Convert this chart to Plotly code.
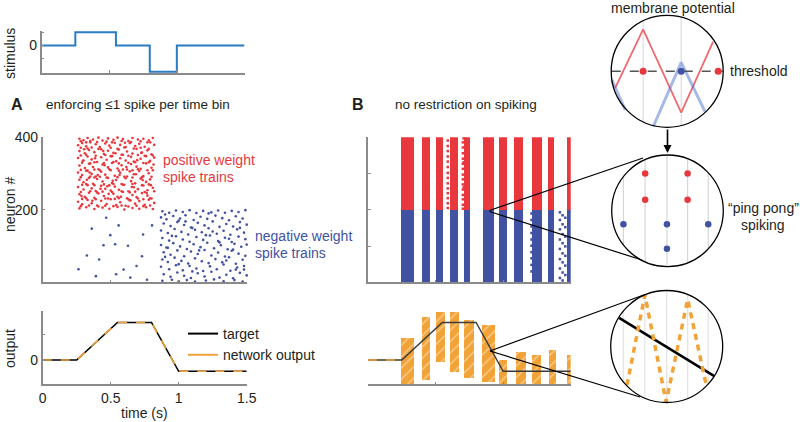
import numpy as np
import plotly.graph_objects as go

W, H = 800, 422


def px(x):
    return x / W


def py(y):
    return 1 - y / H


RED = '#e8383d'
BLUE = '#4152a3'
ORANGE = '#f2a338'
STIM_BLUE = '#2b7bc0'
AXIS = '#8a8a8a'
TXT = '#231f20'
FONT = 'Liberation Sans, Arial, sans-serif'

# ---- data ----
stim_t = [0, 0.25, 0.55, 0.8, 1.0, 1.5]
stim_v = [0, 1, 0, -2, 0, 0]

target_t = [0, 0.25, 0.55, 0.8, 1.0, 1.5]
target_v = [0, 0, 1.5, 1.5, -0.45, -0.45]
net_a_t = [0, 0.25, 0.55, 0.8, 1.0, 1.5]
net_a_v = [0, 0, 1.5, 1.5, -0.45, -0.45]

# panel A spikes (time s, neuron #)
red_spikes_a = [
    (0.27, 396), (0.30, 392), (0.33, 398), (0.37, 394), (0.41, 399), (0.44, 391), (0.48, 397), (0.52, 393),
    (0.55, 399), (0.59, 395), (0.63, 390), (0.66, 398), (0.70, 394), (0.74, 396), (0.78, 392), (0.81, 398),
    (0.26, 378), (0.29, 384), (0.32, 375), (0.35, 386), (0.39, 381), (0.42, 373), (0.46, 383), (0.49, 377),
    (0.53, 385), (0.57, 379), (0.60, 372), (0.64, 384), (0.68, 376), (0.71, 382), (0.75, 374), (0.79, 386),
    (0.82, 379), (0.27, 362), (0.31, 356), (0.34, 365), (0.38, 359), (0.41, 368), (0.45, 354), (0.48, 363),
    (0.52, 357), (0.56, 366), (0.59, 352), (0.62, 361), (0.66, 355), (0.69, 368), (0.73, 358), (0.77, 364),
    (0.80, 353), (0.26, 343), (0.30, 336), (0.33, 347), (0.36, 339), (0.40, 332), (0.43, 345), (0.47, 338),
    (0.50, 348), (0.54, 334), (0.57, 342), (0.61, 336), (0.65, 346), (0.68, 331), (0.72, 341), (0.75, 349),
    (0.79, 335), (0.82, 344), (0.27, 322), (0.31, 315), (0.34, 327), (0.37, 318), (0.41, 312), (0.44, 325),
    (0.48, 317), (0.51, 329), (0.55, 314), (0.58, 323), (0.62, 311), (0.65, 326), (0.69, 319), (0.72, 313),
    (0.76, 328), (0.80, 316), (0.26, 303), (0.29, 296), (0.33, 308), (0.36, 299), (0.39, 292), (0.43, 305),
    (0.46, 297), (0.50, 309), (0.53, 294), (0.57, 302), (0.60, 291), (0.64, 306), (0.67, 298), (0.71, 307),
    (0.74, 293), (0.78, 301), (0.81, 309), (0.27, 283), (0.30, 276), (0.34, 288), (0.37, 272), (0.40, 285),
    (0.44, 278), (0.47, 289), (0.51, 274), (0.54, 282), (0.58, 271), (0.61, 287), (0.65, 279), (0.68, 273),
    (0.72, 286), (0.76, 277), (0.79, 284), (0.26, 263), (0.30, 256), (0.33, 268), (0.36, 259), (0.39, 252),
    (0.43, 266), (0.46, 258), (0.50, 253), (0.53, 264), (0.56, 255), (0.60, 269), (0.63, 251), (0.67, 262),
    (0.70, 257), (0.74, 267), (0.77, 254), (0.81, 261), (0.27, 243), (0.31, 236), (0.34, 247), (0.38, 233),
    (0.41, 245), (0.45, 238), (0.48, 231), (0.52, 244), (0.55, 236), (0.59, 249), (0.62, 232), (0.66, 241),
    (0.69, 235), (0.73, 246), (0.77, 239), (0.80, 231), (0.26, 222), (0.29, 215), (0.33, 227), (0.36, 218),
    (0.40, 212), (0.43, 225), (0.47, 216), (0.50, 229), (0.54, 213), (0.57, 221), (0.61, 211), (0.64, 226),
    (0.68, 217), (0.71, 224), (0.75, 214), (0.78, 228), (0.82, 219), (0.27, 204), (0.32, 207), (0.38, 202),
    (0.44, 206), (0.49, 203), (0.55, 208), (0.60, 201), (0.66, 205), (0.71, 203), (0.76, 207), (0.81, 202),
    (0.28, 389), (0.32, 386), (0.35, 390), (0.40, 387), (0.47, 388), (0.51, 386), (0.58, 390), (0.65, 387),
    (0.72, 389), (0.77, 386), (0.28, 371), (0.33, 369), (0.36, 372), (0.43, 367), (0.50, 371), (0.55, 368),
    (0.61, 373), (0.67, 369), (0.72, 371), (0.78, 368), (0.28, 350), (0.32, 352), (0.39, 349), (0.46, 351),
    (0.51, 348), (0.58, 352), (0.63, 349), (0.70, 351), (0.76, 348), (0.81, 350), (0.29, 330), (0.35, 328),
    (0.38, 331), (0.45, 329), (0.52, 332), (0.56, 328), (0.63, 330), (0.67, 333), (0.74, 329), (0.78, 331),
    (0.28, 310), (0.32, 308), (0.38, 311), (0.42, 309), (0.49, 312), (0.56, 308), (0.59, 311), (0.66, 309),
    (0.70, 312), (0.77, 309), (0.28, 290), (0.35, 292), (0.38, 289), (0.42, 291), (0.48, 288), (0.55, 290),
    (0.62, 292), (0.66, 289), (0.73, 290), (0.80, 291), (0.29, 269), (0.32, 271), (0.38, 268), (0.45, 270),
    (0.49, 268), (0.52, 271), (0.59, 269), (0.66, 271), (0.73, 268), (0.78, 270), (0.28, 249), (0.35, 251),
    (0.40, 248), (0.44, 250), (0.51, 249), (0.58, 251), (0.64, 248), (0.68, 250), (0.75, 249), (0.82, 251),
    (0.29, 230), (0.32, 232), (0.39, 229), (0.46, 231), (0.53, 230), (0.56, 232), (0.63, 229), (0.70, 231),
    (0.74, 229), (0.79, 232), (0.28, 210), (0.34, 212), (0.41, 209), (0.46, 211), (0.52, 210), (0.58, 212),
    (0.63, 209), (0.69, 211), (0.74, 210), (0.79, 212),
    (0.305, 367), (0.345, 303), (0.385, 342), (0.425, 258), (0.455, 323), (0.515, 280), (0.535, 356),
    (0.575, 236), (0.615, 318), (0.655, 263), (0.695, 337), (0.735, 282), (0.765, 246), (0.285, 238),
    (0.325, 283), (0.365, 225), (0.405, 296), (0.445, 362), (0.485, 244), (0.565, 296), (0.605, 385),
    (0.645, 226), (0.685, 298), (0.725, 357), (0.795, 268), (0.815, 325), (0.295, 335), (0.475, 265),
]
blue_spikes_a = [
    (0.88, 196), (0.93, 192), (0.98, 198), (1.03, 194), (1.08, 199), (1.13, 191), (1.18, 197), (1.24, 193),
    (1.29, 198), (1.34, 192), (1.39, 197), (1.44, 194), (1.49, 199), (0.87, 179), (0.91, 174), (0.96, 183),
    (1.01, 176), (1.05, 185), (1.11, 172), (1.16, 181), (1.21, 175), (1.27, 184), (1.32, 177), (1.37, 171),
    (1.42, 182), (1.47, 176), (0.89, 162), (0.94, 155), (0.99, 166), (1.04, 158), (1.09, 151), (1.14, 164),
    (1.19, 157), (1.25, 168), (1.30, 153), (1.35, 161), (1.40, 154), (1.45, 166), (1.50, 159), (0.87, 143),
    (0.92, 136), (0.97, 147), (1.02, 139), (1.07, 132), (1.12, 145), (1.17, 138), (1.22, 149), (1.28, 134),
    (1.33, 142), (1.38, 131), (1.43, 146), (1.48, 137), (0.88, 122), (0.93, 115), (0.98, 127), (1.03, 118),
    (1.08, 112), (1.13, 125), (1.18, 117), (1.23, 129), (1.29, 114), (1.34, 123), (1.39, 111), (1.44, 126),
    (1.49, 119), (0.87, 103), (0.91, 96), (0.96, 108), (1.01, 99), (1.06, 92), (1.11, 105), (1.16, 97),
    (1.21, 109), (1.26, 94), (1.31, 102), (1.36, 91), (1.41, 106), (1.46, 98), (1.50, 104), (0.89, 83),
    (0.94, 76), (0.99, 88), (1.04, 72), (1.09, 85), (1.14, 78), (1.19, 89), (1.24, 74), (1.29, 82),
    (1.34, 71), (1.39, 87), (1.44, 79), (1.49, 73), (0.88, 63), (0.92, 56), (0.97, 68), (1.02, 59),
    (1.07, 52), (1.12, 66), (1.17, 58), (1.22, 53), (1.27, 64), (1.32, 55), (1.37, 69), (1.42, 51),
    (1.47, 62), (0.87, 43), (0.93, 36), (0.98, 47), (1.03, 33), (1.08, 45), (1.13, 38), (1.18, 31),
    (1.23, 44), (1.28, 36), (1.33, 49), (1.38, 32), (1.43, 41), (1.48, 35), (0.89, 22), (0.94, 15),
    (0.99, 27), (1.04, 18), (1.09, 12), (1.14, 25), (1.19, 16), (1.24, 29), (1.30, 13), (1.35, 21),
    (1.40, 11), (1.45, 26), (1.50, 19), (0.88, 4), (0.95, 7), (1.00, 3), (1.06, 6), (1.12, 2),
    (1.20, 5), (1.26, 8), (1.33, 3), (1.41, 6), (1.47, 2), (0.90, 187), (1.00, 170), (1.10, 150),
    (1.20, 130), (1.30, 110), (1.40, 90), (0.90, 70), (1.00, 50), (1.10, 30), (1.25, 140), (1.35, 60),
    (1.45, 150), (0.95, 128), (1.15, 88), (1.05, 168), (1.42, 35), (0.92, 95), (1.22, 190), (1.37, 120),
    (1.48, 45),
    # sparse early negative-weight spikes
    (0.263, 36), (0.325, 74), (0.361, 148), (0.391, 17), (0.415, 63), (0.447, 102), (0.467, 178),
    (0.497, 130), (0.533, 105), (0.558, 157), (0.595, 35), (0.627, 101), (0.644, 13), (0.730, 72),
    (0.738, 132), (0.767, 7), (0.804, 157), (0.540, 22), (0.690, 45),
]

# panel B: population bursts (start, end in s)
burst_t0 = [0.245, 0.399, 0.500, 0.609, 0.713, 0.852, 0.973, 1.079, 1.216, 1.331, 1.470]
burst_t1 = [0.342, 0.461, 0.555, 0.663, 0.757, 0.930, 1.025, 1.149, 1.285, 1.376, 1.500]
red_spikes_b = [
    (0.590, 205), (0.590, 218), (0.590, 232), (0.590, 246), (0.590, 259), (0.590, 273), (0.590, 288),
    (0.590, 302), (0.590, 318), (0.590, 333), (0.590, 347), (0.590, 362), (0.590, 376), (0.590, 391),
    (0.702, 203), (0.702, 214), (0.702, 229), (0.702, 241), (0.702, 256), (0.702, 270), (0.702, 284),
    (0.702, 297), (0.702, 313), (0.702, 327), (0.702, 341), (0.702, 356), (0.702, 372), (0.702, 386),
    (0.708, 397), (0.708, 331), (0.708, 262),
]
blue_spikes_b = [
    (1.210, 30), (1.210, 48), (1.210, 66), (1.210, 83), (1.210, 101), (1.210, 118), (1.210, 136),
    (1.210, 154), (1.210, 172), (1.210, 190), (1.420, 12), (1.420, 38), (1.420, 64), (1.420, 92),
    (1.420, 118), (1.420, 146), (1.420, 172), (1.420, 193), (1.440, 5), (1.440, 27), (1.440, 55),
    (1.440, 80), (1.440, 108), (1.440, 133), (1.440, 160), (1.440, 185), (1.460, 20), (1.460, 46),
    (1.460, 73), (1.460, 99), (1.460, 126), (1.460, 152), (1.460, 178),
]

# panel B network output envelopes
out_t0 = [0.245, 0.399, 0.500, 0.609, 0.708, 0.844, 0.966, 1.092, 1.212, 1.337, 1.474]
out_t1 = [0.342, 0.461, 0.567, 0.671, 0.782, 0.943, 1.032, 1.166, 1.277, 1.389, 1.500]
out_lo = [-0.95, -0.78, -0.05, -0.45, -0.71, -0.85, -0.95, -0.95, -0.95, -0.95, -0.95]
out_hi = [0.89, 1.75, 1.95, 1.95, 1.62, 1.42, 0.02, 0.35, 0.22, 0.42, 0.22]
net_b_t = [0, 0.245]
net_b_v = [0, 0]

# schematic insets (unit-circle coordinates)
c1_grid = [-0.43, 0.25]
c1_red_x = [-0.93, -0.43, 0.25, 0.82]
c1_red_y = [-0.30, 0.75, -0.74, 0.53]
c1_blue_x = [-0.99, -0.75, None, -0.25, 0.25, 0.675]
c1_blue_y = [-0.155, -0.69, None, -0.99, 0.16, -0.72]
c1_spk_red = [-0.43, 0.91]
c1_spk_blue = [0.25]

c2_grid = [-0.79, -0.40, -0.01, 0.36, 0.73]
c2_red_x = [-0.40, 0.36, -0.40, 0.36]
c2_red_y = [0.67, 0.67, 0.20, 0.20]
c2_blue_x = [-0.79, -0.01, 0.73, -0.01]
c2_blue_y = [-0.24, -0.24, -0.24, -0.68]

c3_grid = [-0.775, -0.39, 0.0, 0.375, 0.74]
c3_target_x = [-0.85, 0.85]
c3_target_y = [0.51, -0.53]
c3_out_x = [-0.71, -0.39, -0.01, 0.375, 0.71]
c3_out_y = [-0.69, 0.92, -0.99, 0.84, -0.705]

fig = go.Figure()


def sc(x, y, xa, ya, **kw):
    fig.add_trace(go.Scatter(x=x, y=y, xaxis=xa, yaxis=ya, showlegend=False,
                             hoverinfo='skip', cliponaxis=False, **kw))


# stimulus
sc(stim_t, stim_v, 'x', 'y', mode='lines', line=dict(color=STIM_BLUE, width=2, shape='hv'))

# A raster
rt, rn = zip(*red_spikes_a)
bt, bn = zip(*blue_spikes_a)
sc(rt, rn, 'x2', 'y2', mode='markers', marker=dict(color=RED, size=2.6))
sc(bt, bn, 'x2', 'y2', mode='markers', marker=dict(color=BLUE, size=2.6))

# A output
sc(target_t, target_v, 'x3', 'y3', mode='lines', line=dict(color='black', width=1.6))
sc(net_a_t, net_a_v, 'x3', 'y3', mode='lines', line=dict(color=ORANGE, width=1.6, dash='dash'))
fig.add_trace(go.Scatter(x=[None], y=[None], xaxis='x3', yaxis='y3', mode='lines', name='target',
                         line=dict(color='black', width=2)))
fig.add_trace(go.Scatter(x=[None], y=[None], xaxis='x3', yaxis='y3', mode='lines', name='network output',
                         line=dict(color=ORANGE, width=2)))

# B raster
t0 = np.array(burst_t0)
t1 = np.array(burst_t1)
for base, col in ((0, BLUE), (200, RED)):
    fig.add_trace(go.Bar(x=(t0 + t1) / 2, y=[200] * len(t0), base=base, width=t1 - t0,
                         marker=dict(color=col, line_width=0), xaxis='x4', yaxis='y4',
                         showlegend=False, hoverinfo='skip'))
rbt, rbn = zip(*red_spikes_b)
bbt, bbn = zip(*blue_spikes_b)
sc(rbt, rbn, 'x4', 'y4', mode='markers', marker=dict(color=RED, size=2.5, symbol='square'))
sc(bbt, bbn, 'x4', 'y4', mode='markers', marker=dict(color=BLUE, size=2.5, symbol='square'))

# B output
sc(target_t, target_v, 'x5', 'y5', mode='lines', line=dict(color='#3a3a3a', width=1.4))
o0 = np.array(out_t0)
o1 = np.array(out_t1)
lo = np.array(out_lo)
hi = np.array(out_hi)
fig.add_trace(go.Bar(x=(o0 + o1) / 2, y=hi - lo, base=lo, width=o1 - o0, xaxis='x5', yaxis='y5',
                     marker=dict(color=ORANGE, line_width=0,
                                 pattern=dict(shape='/', fgcolor='white', bgcolor=ORANGE,
                                              size=8, solidity=0.15)),
                     showlegend=False, hoverinfo='skip'))
sc(net_b_t, net_b_v, 'x5', 'y5', mode='lines', line=dict(color=ORANGE, width=1.6, dash='dash'))

# inset 1: membrane potential
for g in c1_grid:
    h = np.sqrt(1 - g ** 2)
    sc([g, g], [-h, h], 'x6', 'y6', mode='lines', line=dict(color='#d6d6d6', width=1))
sc(c1_red_x, c1_red_y, 'x6', 'y6', mode='lines', line=dict(color='#ee6a6e', width=1.8))
sc(c1_blue_x, c1_blue_y, 'x6', 'y6', mode='lines', line=dict(color='rgba(80,115,205,0.5)', width=3))
sc([-0.99, 0.99], [0, 0], 'x6', 'y6', mode='lines', line=dict(color='#555555', width=1.5, dash='dash'))
sc(c1_spk_red, [0] * len(c1_spk_red), 'x6', 'y6', mode='markers', marker=dict(color=RED, size=7))
sc(c1_spk_blue, [0] * len(c1_spk_blue), 'x6', 'y6', mode='markers', marker=dict(color=BLUE, size=7))

# inset 2: ping pong spiking
for g in c2_grid:
    h = np.sqrt(1 - g ** 2)
    sc([g, g], [-h, h], 'x7', 'y7', mode='lines', line=dict(color='#d6d6d6', width=1.2))
sc(c2_red_x, c2_red_y, 'x7', 'y7', mode='markers', marker=dict(color=RED, size=6.5))
sc(c2_blue_x, c2_blue_y, 'x7', 'y7', mode='markers', marker=dict(color=BLUE, size=6.5))

# inset 3: output zoom
for g in c3_grid:
    h = np.sqrt(1 - g ** 2)
    sc([g, g], [-h, h], 'x8', 'y8', mode='lines', line=dict(color='#e2e2e2', width=1.2))
sc(c3_target_x, c3_target_y, 'x8', 'y8', mode='lines', line=dict(color='black', width=2.5))
sc(c3_out_x, c3_out_y, 'x8', 'y8', mode='lines', line=dict(color=ORANGE, width=3.5, dash='6px,5px'))


def axis(dom, rng, **kw):
    d = dict(domain=dom, range=rng, showgrid=False, zeroline=False, showline=True,
             linecolor=AXIS, linewidth=1.5, ticks='inside', ticklen=3, tickcolor=AXIS,
             tickwidth=1, tickfont=dict(size=14, color=TXT), fixedrange=True, automargin=False)
    d.update(kw)
    return d


xa_a = [px(42.7), px(246.7)]
xa_b = [px(368), px(570.7)]
ya_r = [py(282.3), py(137.3)]
ya_o = [py(384.3), py(310.7)]

circles = [(667.2, 71.3, 56.0), (667.5, 210.8, 55.8), (666.7, 346.5, 56.0)]

layout_axes = dict(
    xaxis=axis([px(41.5), px(244.5)], [0, 1.5], tickvals=[0.5, 1.0], showticklabels=False, anchor='y'),
    yaxis=axis([py(73), py(31)], [-2.1, 1.1], tickvals=[-1, 0, 1], ticktext=['', '0', ''], anchor='x'),
    xaxis2=axis(xa_a, [0, 1.5], tickvals=[0.5, 1.0], showticklabels=False, anchor='y2'),
    yaxis2=axis(ya_r, [0, 400], tickvals=[200, 400], anchor='x2'),
    xaxis3=axis(xa_a, [0, 1.5], tickvals=[0, 0.5, 1, 1.5], ticktext=['0', '0.5', '1', '1.5'], anchor='y3'),
    yaxis3=axis(ya_o, [-0.97, 1.97], tickvals=[0, 1], ticktext=['0', ''], anchor='x3'),
    xaxis4=axis(xa_b, [0, 1.5], tickvals=[0.5, 1.0], showticklabels=False, anchor='y4'),
    yaxis4=axis(ya_r, [0, 400], tickvals=[100, 200, 300, 400], showticklabels=False, anchor='x4'),
    xaxis5=axis(xa_b, [0, 1.5], tickvals=[0, 0.5, 1.0], showticklabels=False, anchor='y5'),
    yaxis5=axis(ya_o, [-0.97, 1.97], visible=False, anchor='x5'),
)
shapes = []
for i, (cx, cy, r) in enumerate(circles):
    n = i + 6
    half = r * 1.05
    layout_axes[f'xaxis{n}'] = dict(domain=[px(cx - half), px(cx + half)], range=[-1.05, 1.05],
                                    visible=False, fixedrange=True, anchor=f'y{n}')
    layout_axes[f'yaxis{n}'] = dict(domain=[py(cy + half), py(cy - half)], range=[-1.05, 1.05],
                                    visible=False, fixedrange=True, anchor=f'x{n}')
    shapes.append(dict(type='circle', xref=f'x{n}', yref=f'y{n}', x0=-1, x1=1, y0=-1, y1=1,
                       line=dict(color='black', width=1.3)))

# zoom connector lines
for (x0, y0, x1, y1) in [(489.5, 210.5, 643, 158), (489.5, 211.5, 642, 260),
                         (490, 351, 645, 294.5), (490, 351, 640, 397)]:
    shapes.append(dict(type='line', xref='paper', yref='paper', x0=px(x0), y0=py(y0),
                       x1=px(x1), y1=py(y1), line=dict(color='black', width=1.2)))

ann = []


def text(s, x, y, anchor='center', size=14, color=TXT, angle=0, bold=False):
    if bold:
        s = f'<b>{s}</b>'
    ann.append(dict(text=s, x=px(x), y=py(y), xref='paper', yref='paper', xanchor=anchor,
                    yanchor='middle', showarrow=False, textangle=angle,
                    font=dict(size=size, color=color, family=FONT)))


text('stimulus', 10, 54, angle=-90)
text('A', 17, 105, size=16, bold=True)
text('enforcing ≤1 spike per time bin', 44, 105, anchor='left', size=13.5)
text('neuron #', 10, 205, angle=-90)
text('positive weight', 161, 160, anchor='left', color=RED)
text('spike trains', 161, 177, anchor='left', color=RED)
text('negative weight', 253, 236, anchor='left', color=BLUE)
text('spike trains', 253, 253, anchor='left', color=BLUE)
text('output', 10, 349, angle=-90)
text('time (s)', 144, 413)
text('B', 358, 105, size=16, bold=True)
text('no restriction on spiking', 393, 105, anchor='left', size=13.5)
text('membrane potential', 673, 8)
text('threshold', 728, 71, anchor='left')
text('“ping pong”', 763, 208)
text('spiking', 763, 225)

ann.append(dict(x=px(667.5), y=py(153), xref='paper', yref='paper', ax=0, ay=-25, text='',
                showarrow=True, arrowhead=2, arrowsize=1, arrowwidth=1.6, arrowcolor='black'))

fig.update_layout(
    width=W, height=H, margin=dict(l=0, r=0, t=0, b=0, pad=0, autoexpand=False),
    paper_bgcolor='white', plot_bgcolor='white',
    font=dict(family=FONT, color=TXT, size=14),
    barmode='overlay', bargap=0,
    showlegend=True,
    legend=dict(x=px(183), y=py(318), xanchor='left', yanchor='top', bgcolor='rgba(0,0,0,0)',
                font=dict(size=14), tracegroupgap=0, itemwidth=30),
    shapes=shapes, annotations=ann,
    **layout_axes,
)

# page body margin would offset the 800x422 figure inside the window
fig.write_html("out.html", config={'displayModeBar': False},
               post_script="document.body.style.margin='0';document.body.style.overflow='hidden';")
